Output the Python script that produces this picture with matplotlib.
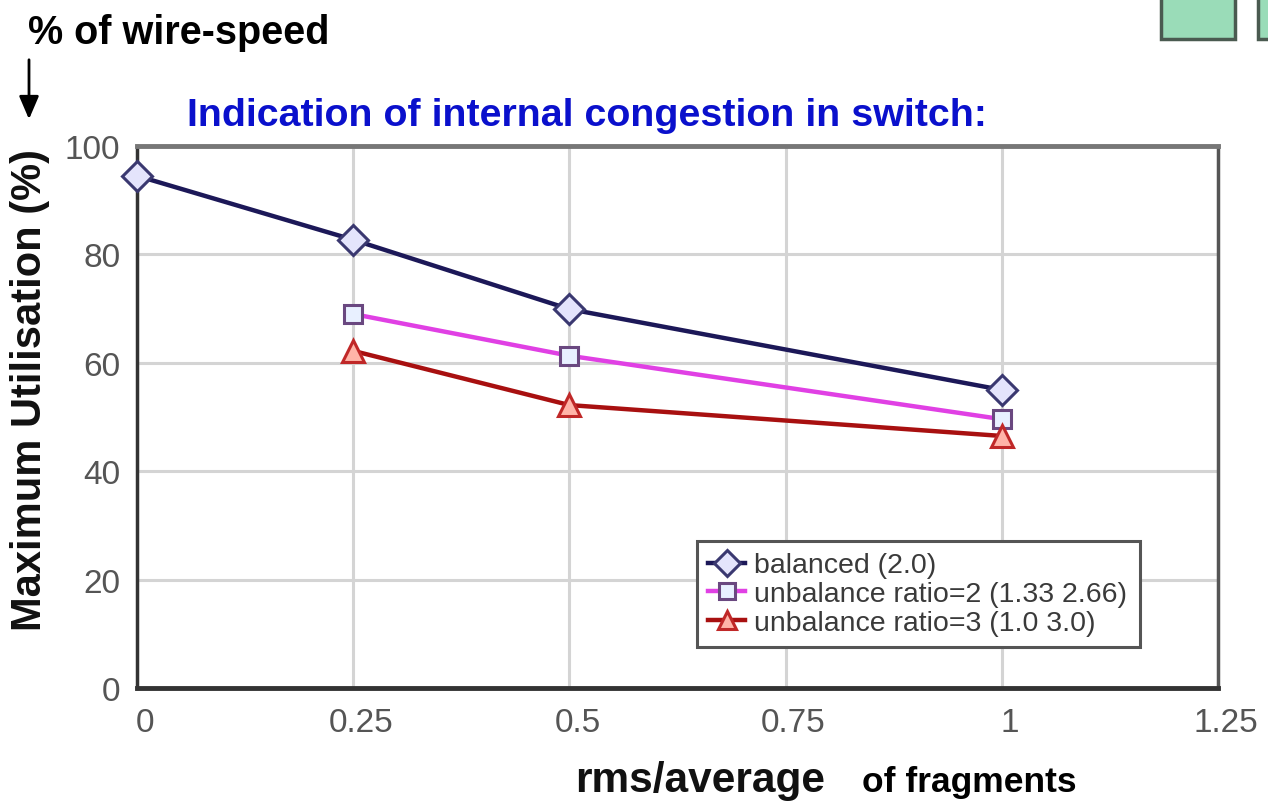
import matplotlib
matplotlib.use("Agg")
import matplotlib.pyplot as plt
from matplotlib.patches import Rectangle, FancyArrowPatch
from matplotlib.transforms import ScaledTranslation

plt.rcParams["font.family"] = ["Liberation Sans", "DejaVu Sans"]

# Data
x_balanced = [0, 0.25, 0.5, 1.0]
y_balanced = [94.5, 82.7, 69.9, 55.0]
x_unbal2 = [0.25, 0.5, 1.0]
y_unbal2 = [69.0, 61.3, 49.6]
x_unbal3 = [0.25, 0.5, 1.0]
y_unbal3 = [62.2, 52.2, 46.5]
labels = ["balanced (2.0)", "unbalance ratio=2 (1.33 2.66)", "unbalance ratio=3 (1.0 3.0)"]
xticks = [0, 0.25, 0.5, 0.75, 1, 1.25]
xticklabels = ["0", "0.25", "0.5", "0.75", "1", "1.25"]
yticks = [0, 20, 40, 60, 80, 100]

W, H = 1268, 803
fig = plt.figure(figsize=(W / 100, H / 100), dpi=100)
ax = fig.add_axes([137 / W, 1 - 689 / H, (1218 - 137) / W, (689 - 147) / H])

ax.set_xlim(0, 1.25)
ax.set_ylim(0, 100)
ax.set_xticks(xticks)
ax.set_xticklabels(xticklabels)
ax.set_yticks(yticks)
ax.grid(True, color="#d4d4d4", linewidth=2.2, zorder=0)
ax.set_axisbelow(True)
ax.tick_params(axis="both", length=0, labelsize=24, labelcolor="#555555")
ax.tick_params(axis="x", pad=14)
ax.tick_params(axis="y", pad=12)
shift = ScaledTranslation(8 / 100, 0, fig.dpi_scale_trans)
for lbl in ax.get_xticklabels():
    lbl.set_transform(lbl.get_transform() + shift)

ax.spines["left"].set_color("#333333")
ax.spines["left"].set_linewidth(2.5)
ax.spines["bottom"].set_color("#333333")
ax.spines["bottom"].set_linewidth(3.5)
ax.spines["top"].set_color("#777777")
ax.spines["top"].set_linewidth(3.5)
ax.spines["right"].set_color("#555555")
ax.spines["right"].set_linewidth(2.5)

l1, = ax.plot(x_balanced, y_balanced, color="#1c1858", linewidth=3.2, marker="D",
              markersize=15, markerfacecolor="#e4e4fc", markeredgecolor="#3a3870",
              markeredgewidth=2.2, zorder=3, clip_on=False)
l2, = ax.plot(x_unbal2, y_unbal2, color="#e040e4", linewidth=3.2, marker="s",
              markersize=13, markerfacecolor="#e8f0ff", markeredgecolor="#6a4880",
              markeredgewidth=2.2, zorder=3)
l3, = ax.plot(x_unbal3, y_unbal3, color="#a81010", linewidth=3.2, marker="^",
              markersize=16, markerfacecolor="#ffb4a8", markeredgecolor="#c02828",
              markeredgewidth=2.2, zorder=3)

aw, ah = 1218 - 137, 689 - 147
leg = ax.legend([l1, l2, l3], labels, loc="lower left",
                bbox_to_anchor=((697 - 137) / aw, (689 - 648) / ah,
                                (1140 - 697) / aw, (648 - 541) / ah),
                mode="expand", fancybox=False, framealpha=1, edgecolor="#555555",
                prop={"size": 20.5}, handlelength=1.3, handletextpad=0.3,
                labelspacing=0.09, borderpad=0.4, markerscale=0.85,
                borderaxespad=0)
leg.get_frame().set_linewidth(2.2)
for t in leg.get_texts():
    t.set_color("#3a3a3a")

fig.text(30 / W, 1 - 390 / H, "Maximum Utilisation (%)", fontsize=30,
         fontweight="bold", rotation=90, ha="center", va="center", color="#111111")

fig.text(28 / W, 1 - 33 / H, "% of wire-speed", fontsize=28.5, fontweight="bold",
         va="center", ha="left")
fig.text(187 / W, 1 - 116 / H, "Indication of internal congestion in switch:",
         fontsize=28.4, fontweight="bold", color="#0a10cc", va="center", ha="left")
fig.text(575 / W, 1 - 781 / H, "rms/average", fontsize=30.5, fontweight="bold",
         va="center", ha="left", color="#111111")
fig.text(862 / W, 1 - 783 / H, "of fragments", fontsize=25.5, fontweight="bold",
         va="center", ha="left")

fig.add_artist(FancyArrowPatch(
    (29 / W, 1 - 58 / H), (29 / W, 1 - 123 / H),
    transform=fig.transFigure, arrowstyle="-|>,head_length=14,head_width=6",
    color="black", linewidth=2, mutation_scale=1))

for x0 in (1161, 1258):
    fig.add_artist(Rectangle((x0 / W, 1 - 40 / H), 74 / W, 45 / H,
                             transform=fig.transFigure, facecolor="#9adcb8",
                             edgecolor="#4a5a50", linewidth=2.5))

fig.savefig("out.png", dpi=100)
